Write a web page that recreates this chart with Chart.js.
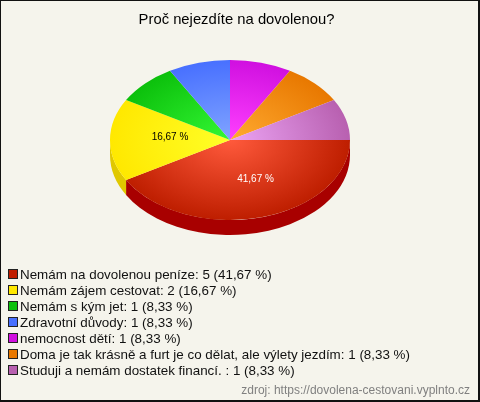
<!DOCTYPE html>
<html>
<head>
<meta charset="utf-8">
<style>
    html, body { margin: 0; padding: 0; background: #F5F4EC; }
    canvas { display: block; }
</style>
<script src="https://cdn.jsdelivr.net/npm/chart.js@4/dist/chart.umd.min.js"></script>
</head>
<body>
<canvas id="mainChart" width="480" height="402"></canvas>
<script>
const chartTitle = 'Proč nejezdíte na dovolenou?';
const sourceNote = 'zdroj: https://dovolena-cestovani.vyplnto.cz';
const categories = [
    'Nemám na dovolenou peníze',
    'Nemám zájem cestovat',
    'Nemám s kým jet',
    'Zdravotní důvody',
    'nemocnost dětí',
    'Doma je tak krásně a furt je co dělat, ale výlety jezdím',
    'Studuji a nemám dostatek financí. '
];
const counts = [5, 2, 1, 1, 1, 1, 1];
const percents = ['41,67 %', '16,67 %', '8,33 %', '8,33 %', '8,33 %', '8,33 %', '8,33 %'];

// barvy: střed výseče, okraj výseče, bok
const innerColors = ['#FF5A3C', '#FFFF28', '#34F834', '#80A4FF', '#FF40FF', '#FFAA30', '#ECA4F4'];
const outerColors = ['#BE1E00', '#FFE800', '#0CC00C', '#4870FF', '#D010E0', '#E87800', '#B860B0'];
const sideColors  = ['#A80000', '#E0C800', '#00A000', '#3050C0', '#A000A0', '#C06000', '#905090'];
const legendColors = ['#C01E00', '#FFE800', '#0CC00C', '#4870FF', '#D010E0', '#E87800', '#B860B0'];

const squash = 80 / 120;   // výška elipsy / šířka
const depth = 15;

// popisky jen u větších výsečí
const pieLabels = [
    { index: 0, color: '#FFFFFF', dx: 10, dy: 1 },
    { index: 1, color: '#000000', dx: 0, dy: -3 }
];

const pie3d = {
    id: 'pie3d',
    beforeDraw(chart) {
        const ctx = chart.ctx;
        ctx.save();
        ctx.fillStyle = '#F5F4EC';
        ctx.fillRect(0, 0, chart.width, chart.height);
        ctx.restore();
    },
    beforeDatasetsDraw(chart) {
        const ctx = chart.ctx;
        const arcs = chart.getDatasetMeta(0).data;
        ctx.save();
        arcs.forEach((arc, i) => {
            const a = Math.max(arc.startAngle, 0);
            const b = Math.min(arc.endAngle, Math.PI);
            if (b <= a) return;
            const rx = arc.outerRadius;
            const ry = rx * squash;
            ctx.beginPath();
            ctx.ellipse(arc.x, arc.y, rx, ry, 0, a, b);
            ctx.ellipse(arc.x, arc.y + depth, rx, ry, 0, b, a, true);
            ctx.closePath();
            ctx.fillStyle = sideColors[i];
            ctx.fill();
        });
        ctx.restore();

        const first = arcs[0];
        ctx.save();
        ctx.translate(first.x, first.y);
        ctx.scale(1, squash);
        ctx.translate(-first.x, -first.y);
    },
    afterDatasetsDraw(chart) {
        const ctx = chart.ctx;
        ctx.restore();

        const arcs = chart.getDatasetMeta(0).data;
        ctx.save();
        ctx.font = '10px "Liberation Sans", Arial, sans-serif';
        ctx.textAlign = 'center';
        ctx.textBaseline = 'middle';
        pieLabels.forEach(l => {
            const arc = arcs[l.index];
            const mid = (arc.startAngle + arc.endAngle) / 2;
            const x = arc.x + Math.cos(mid) * arc.outerRadius / 2;
            const y = arc.y + Math.sin(mid) * arc.outerRadius * squash / 2;
            ctx.fillStyle = l.color;
            ctx.fillText(percents[l.index], x + l.dx, y + l.dy);
        });

        ctx.textAlign = 'center';
        ctx.textBaseline = 'alphabetic';
        ctx.fillStyle = '#000000';
        ctx.font = '14.8px "Liberation Sans", Arial, sans-serif';
        ctx.fillText(chartTitle, 236.5, 24);

        ctx.textAlign = 'left';
        ctx.font = '13.4px "Liberation Sans", Arial, sans-serif';
        categories.forEach((name, i) => {
            const y = 270 + i * 16;
            ctx.fillStyle = legendColors[i];
            ctx.fillRect(9, y, 8, 8);
            ctx.strokeStyle = '#222222';
            ctx.lineWidth = 1;
            ctx.strokeRect(8.5, y - 0.5, 9, 9);
            ctx.fillStyle = '#111111';
            ctx.fillText(name + ': ' + counts[i] + ' (' + percents[i] + ')', 20, y + 9);
        });

        ctx.textAlign = 'right';
        ctx.fillStyle = '#808080';
        ctx.font = '12px "Liberation Sans", Arial, sans-serif';
        ctx.fillText(sourceNote, 470, 394);

        // rámeček: vpravo a dole silnější
        ctx.fillStyle = '#111111';
        ctx.fillRect(0, 0, chart.width, 1);
        ctx.fillRect(0, 0, 1, chart.height);
        ctx.fillRect(chart.width - 2, 0, 2, chart.height);
        ctx.fillRect(0, chart.height - 2, chart.width, 2);
        ctx.restore();
    }
};

function sliceGradient(context) {
    const chart = context.chart;
    const area = chart.chartArea;
    const i = context.dataIndex;
    if (!area) return outerColors[i];
    const cx = (area.left + area.right) / 2;
    const cy = (area.top + area.bottom) / 2;
    const g = chart.ctx.createRadialGradient(cx, cy, 0, cx, cy, (area.right - area.left) / 2);
    g.addColorStop(0, innerColors[i]);
    g.addColorStop(1, outerColors[i]);
    return g;
}

document.addEventListener('DOMContentLoaded', () => {
    const ctx = document.getElementById('mainChart').getContext('2d');
    new Chart(ctx, {
        type: 'pie',
        data: {
            labels: categories,
            datasets: [{
                data: counts,
                backgroundColor: sliceGradient,
                borderWidth: 0
            }]
        },
        options: {
            responsive: false,
            animation: false,
            rotation: 90,
            layout: {
                padding: { left: 110, right: 130, top: 20, bottom: 142 }
            },
            plugins: {
                legend: { display: false },
                title: { display: false },
                tooltip: { enabled: false }
            }
        },
        plugins: [pie3d]
    });
});
</script>
</body>
</html>
